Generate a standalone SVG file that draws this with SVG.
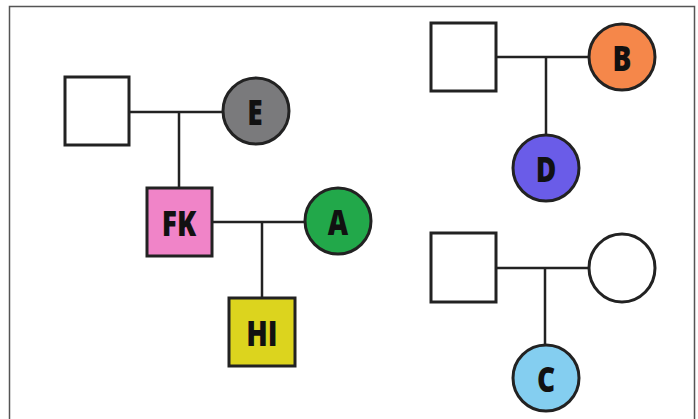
<svg xmlns="http://www.w3.org/2000/svg" width="698" height="419" viewBox="0 0 698 419">
<style>
.sym{stroke:#222;stroke-width:3}
.ln{stroke:#222;stroke-width:2.5;fill:none}
.lbl{font-family:"Open Sans","Liberation Sans",sans-serif;font-weight:800;font-size:36px;fill:#111;text-anchor:middle;dominant-baseline:central}
</style>
<rect x="0" y="0" width="698" height="419" fill="#fff"/>
<path d="M9.5,419 V6.5 H694.5 V419" fill="none" stroke="#555" stroke-width="1.5"/>
<g id="connectors">
<path class="ln" d="M129,112 H223 M179,112 V187"/>
<path class="ln" d="M212,222 H305 M262,222 V297"/>
<path class="ln" d="M496,57 H589 M546,57 V134"/>
<path class="ln" d="M496,268 H589 M545,268 V344"/>
</g>
<g id="g1m"><rect class="sym" x="65" y="77" width="64" height="68" fill="#fff"/></g>
<g id="E"><circle class="sym" cx="256" cy="111" r="33" fill="#7a7a7c"/><text class="lbl" x="255" y="111" transform="translate(255 111) scale(0.78 1) translate(-255 -111)">E</text></g>
<g id="FK"><rect class="sym" x="147" y="188" width="65" height="68" fill="#f084c8"/><text class="lbl" x="179" y="222" transform="translate(179 222) scale(0.78 1) translate(-179 -222)">FK</text></g>
<g id="A"><circle class="sym" cx="338" cy="221" r="33" fill="#22a84a"/><text class="lbl" x="338" y="221" transform="translate(338 221) scale(0.78 1) translate(-338 -221)">A</text></g>
<g id="HI"><rect class="sym" x="229" y="298" width="66" height="68" fill="#dcd41e"/><text class="lbl" x="262" y="332" transform="translate(262 332) scale(0.78 1) translate(-262 -332)">HI</text></g>
<g id="tr_m"><rect class="sym" x="431" y="23" width="65" height="68" fill="#fff"/></g>
<g id="B"><circle class="sym" cx="622" cy="57" r="33" fill="#f5874a"/><text class="lbl" x="622" y="57" transform="translate(622 57) scale(0.78 1) translate(-622 -57)">B</text></g>
<g id="D"><circle class="sym" cx="546" cy="168" r="33" fill="#6a5ce8"/><text class="lbl" x="546" y="168" transform="translate(546 168) scale(0.78 1) translate(-546 -168)">D</text></g>
<g id="br_m"><rect class="sym" x="431" y="233" width="65" height="69" fill="#fff"/></g>
<g id="br_f"><ellipse class="sym" cx="622" cy="268" rx="33" ry="34" fill="#fff"/></g>
<g id="C"><circle class="sym" cx="546" cy="378" r="33" fill="#84cef0"/><text class="lbl" x="546" y="378" transform="translate(546 378) scale(0.78 1) translate(-546 -378)">C</text></g>
</svg>
